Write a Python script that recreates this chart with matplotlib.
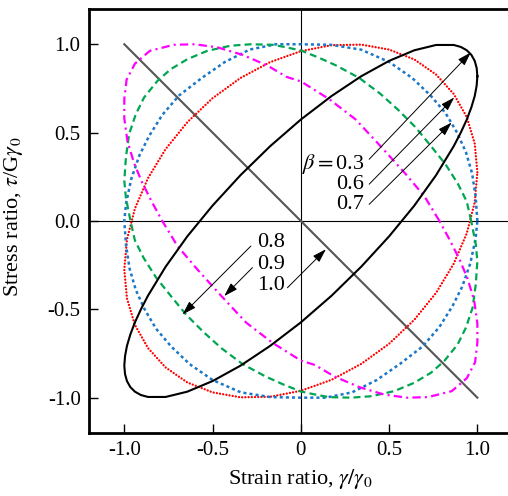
import matplotlib
matplotlib.use("Agg")
import matplotlib.pyplot as plt

plt.rcParams['font.family'] = ['Liberation Serif', 'DejaVu Serif']
plt.rcParams['mathtext.fontset'] = 'stix'
plt.rcParams['lines.scale_dashes'] = False

# beta = 0.3 (black ellipse)
black_x = [1.000, 0.996, 0.985, 0.966, 0.940, 0.906, 0.866, 0.766, 0.643, 0.500,
           0.342, 0.174, 0.000, -0.174, -0.342, -0.500, -0.643, -0.766, -0.866,
           -0.906, -0.940, -0.966, -0.985, -0.996, -1.000, -0.996, -0.985, -0.966,
           -0.940, -0.906, -0.866, -0.766, -0.643, -0.500, -0.342, -0.174, 0.000,
           0.174, 0.342, 0.500, 0.643, 0.766, 0.866, 0.906, 0.940, 0.966, 0.985,
           0.996, 1.000]
black_y = [0.819, 0.866, 0.906, 0.940, 0.966, 0.985, 0.996, 0.996, 0.966, 0.906,
           0.819, 0.707, 0.574, 0.423, 0.259, 0.087, -0.087, -0.259, -0.423,
           -0.500, -0.574, -0.643, -0.707, -0.766, -0.819, -0.866, -0.906, -0.940,
           -0.966, -0.985, -0.996, -0.996, -0.966, -0.906, -0.819, -0.707, -0.574,
           -0.423, -0.259, -0.087, 0.087, 0.259, 0.423, 0.500, 0.574, 0.643, 0.707,
           0.766, 0.819]

# beta = 0.6 (red dotted)
red_x = [1.000, 0.985, 0.940, 0.866, 0.766, 0.643, 0.500, 0.342, 0.174, 0.000,
         -0.174, -0.342, -0.500, -0.643, -0.766, -0.866, -0.940, -0.985, -1.000,
         -0.985, -0.940, -0.866, -0.766, -0.643, -0.500, -0.342, -0.174, 0.000,
         0.174, 0.342, 0.500, 0.643, 0.766, 0.866, 0.940, 0.985, 1.000]
red_y = [0.276, 0.438, 0.588, 0.719, 0.829, 0.914, 0.970, 0.998, 0.995, 0.961,
         0.899, 0.809, 0.695, 0.559, 0.407, 0.242, 0.070, -0.105, -0.276,
         -0.438, -0.588, -0.719, -0.829, -0.914, -0.970, -0.998, -0.995, -0.961,
         -0.899, -0.809, -0.695, -0.559, -0.407, -0.242, -0.070, 0.105, 0.276]

# beta = 0.7 (blue dotted)
blue_x = [1.0, 0.99, 0.97, 0.935, 0.885, 0.82, 0.735, 0.63, 0.50, 0.34, 0.17, 0.0,
          -0.14, -0.29, -0.43, -0.56, -0.69, -0.785, -0.86, -0.915, -0.96, -0.99, -1.0,
          -0.99, -0.97, -0.935, -0.885, -0.82, -0.735, -0.63, -0.50, -0.34, -0.17, 0.0,
          0.14, 0.29, 0.43, 0.56, 0.69, 0.785, 0.86, 0.915, 0.96, 0.99, 1.0]
blue_y = [0.0, 0.14, 0.27, 0.39, 0.50, 0.61, 0.71, 0.81, 0.90, 0.97, 0.997, 1.0,
          1.0, 0.97, 0.90, 0.81, 0.71, 0.60, 0.48, 0.37, 0.24, 0.10, 0.0,
          -0.14, -0.27, -0.39, -0.50, -0.61, -0.71, -0.81, -0.90, -0.97, -0.997, -1.0,
          -1.0, -0.97, -0.90, -0.81, -0.71, -0.60, -0.48, -0.37, -0.24, -0.10, 0.0]

# beta = 0.8 (green dashed)
green_x = [0.965, 0.94, 0.89, 0.82, 0.74, 0.65, 0.55, 0.45, 0.33, 0.2, 0.1, 0.0,
           -0.094, -0.16, -0.283, -0.397, -0.529, -0.642, -0.737, -0.812, -0.888,
           -0.935, -0.973, -0.991, -1.0, -0.991, -0.965,
           -0.94, -0.89, -0.82, -0.74, -0.65, -0.55, -0.45, -0.33, -0.2, -0.1, 0.0,
           0.094, 0.16, 0.283, 0.397, 0.529, 0.642, 0.737, 0.812, 0.888,
           0.935, 0.973, 0.991, 1.0, 0.991, 0.965]
green_y = [0.0, 0.11, 0.21, 0.32, 0.42, 0.53, 0.63, 0.72, 0.81, 0.88, 0.925, 0.965,
           0.985, 0.997, 1.0, 0.992, 0.963, 0.916, 0.859, 0.793, 0.699,
           0.604, 0.491, 0.359, 0.227, 0.132, 0.0,
           -0.11, -0.21, -0.32, -0.42, -0.53, -0.63, -0.72, -0.81, -0.88, -0.925, -0.965,
           -0.985, -0.997, -1.0, -0.992, -0.963, -0.916, -0.859, -0.793, -0.699,
           -0.604, -0.491, -0.359, -0.227, -0.132, 0.0]

# beta = 0.9 (magenta dash-dot)
mag_x = [0.785, 0.70, 0.59, 0.45, 0.31, 0.16, 0.0,
         -0.08, -0.19, -0.33, -0.47, -0.60, -0.72, -0.855, -0.94, -0.987, -1.0, -1.0,
         -0.982, -0.944, -0.90, -0.845, -0.785,
         -0.70, -0.59, -0.45, -0.31, -0.16, 0.0,
         0.08, 0.19, 0.33, 0.47, 0.60, 0.72, 0.855, 0.94, 0.987, 1.0, 1.0,
         0.982, 0.944, 0.90, 0.845, 0.785]
mag_y = [0.0, 0.14, 0.27, 0.425, 0.575, 0.69, 0.79,
         0.815, 0.88, 0.94, 0.982, 1.0, 0.997, 0.963, 0.89, 0.80, 0.69, 0.58,
         0.45, 0.325, 0.22, 0.11, 0.0,
         -0.14, -0.27, -0.425, -0.575, -0.69, -0.79,
         -0.815, -0.88, -0.94, -0.982, -1.0, -0.997, -0.963, -0.89, -0.80, -0.69, -0.58,
         -0.45, -0.325, -0.22, -0.11, 0.0]

# beta = 1.0 (gray line)
gray_x = [-1.0, 1.0]
gray_y = [1.0, -1.0]

tick_vals = [-1.0, -0.5, 0.0, 0.5, 1.0]
x_tick_labels = ['-1.0', '-0.5', '0', '0.5', '1.0']
y_tick_labels = ['-1.0', '-0.5', '0.0', '0.5', '1.0']

fig = plt.figure(figsize=(5.08, 4.96), dpi=100)
ax = fig.add_axes([0.1752, 0.127, 0.834, 0.855])

ax.axhline(0, color='black', lw=0.8, zorder=1)
ax.axvline(0, color='black', lw=0.8, zorder=1)

ax.plot(gray_x, gray_y, color='#555555', lw=1.5, zorder=2)
ax.plot(red_x, red_y, color='#ff0000', lw=1.7, ls=(0, (0.01, 2.3)),
        dash_capstyle='round', zorder=3)
ax.plot(blue_x, blue_y, color='#1a78c8', lw=1.8, ls=(0, (2.2, 2.2)), zorder=3)
ax.plot(green_x, green_y, color='#00a651', lw=1.6, ls=(0, (5, 3)), zorder=3)
ax.plot(mag_x, mag_y, color='#ff00ff', lw=1.6, ls=(0, (6, 3, 1.5, 3)), zorder=3)
ax.plot(black_x, black_y, color='black', lw=1.5, zorder=4)

arrow = dict(arrowstyle='-|>,head_length=0.7,head_width=0.22', lw=0.7,
             color='black', shrinkA=0, shrinkB=0, mutation_scale=12)
ax.annotate('', xy=(0.963, 0.954), xytext=(0.387, 0.349), arrowprops=arrow)
ax.annotate('', xy=(0.869, 0.699), xytext=(0.387, 0.208), arrowprops=arrow)
ax.annotate('', xy=(0.854, 0.557), xytext=(0.387, 0.094), arrowprops=arrow)
ax.annotate('', xy=(-0.670, -0.529), xytext=(-0.283, -0.142), arrowprops=arrow)
ax.annotate('', xy=(-0.434, -0.425), xytext=(-0.274, -0.264), arrowprops=arrow)
ax.annotate('', xy=(0.142, -0.160), xytext=(-0.076, -0.378), arrowprops=arrow)

ax.text(0.36, 0.32, r'$\beta=$0.3', ha='right', va='center', fontsize=16)
ax.text(0.36, 0.208, '0.6', ha='right', va='center', fontsize=16)
ax.text(0.36, 0.094, '0.7', ha='right', va='center', fontsize=16)
ax.text(-0.245, -0.123, '0.8', ha='left', va='center', fontsize=16)
ax.text(-0.245, -0.246, '0.9', ha='left', va='center', fontsize=16)
ax.text(-0.245, -0.368, '1.0', ha='left', va='center', fontsize=16)

ax.set_xlim(-1.2, 1.2)
ax.set_ylim(-1.2, 1.2)
ax.set_xticks(tick_vals)
ax.set_xticklabels(x_tick_labels)
ax.set_yticks(tick_vals)
ax.set_yticklabels(y_tick_labels)
ax.tick_params(direction='in', length=6.5, width=1, labelsize=15, pad=6,
               top=False, right=False)
for s in ax.spines.values():
    s.set_linewidth(2)

ax.set_xlabel(r'Strain ratio, $\gamma/\gamma_0$', fontsize=16)
ax.set_ylabel(r'Stress ratio, $\tau$/G$\gamma_0$', fontsize=16)
ax.xaxis.set_label_coords(0.498, -0.079)
ax.yaxis.set_label_coords(-0.151, 0.51)

fig.savefig('out.png', dpi=100)
